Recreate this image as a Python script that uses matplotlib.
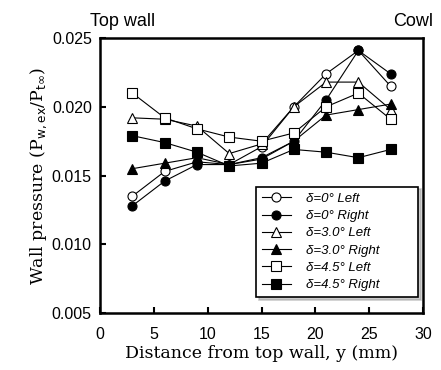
import matplotlib
matplotlib.use("Agg")
import matplotlib.pyplot as plt

y_mm = [3, 6, 9, 12, 15, 18, 21, 24, 27]

left_0 = [0.0135, 0.0153, 0.0160, 0.0158, 0.0171, 0.0200, 0.0224, 0.0241, 0.0215]
right_0 = [0.0128, 0.0146, 0.0158, 0.0158, 0.0163, 0.0175, 0.0205, 0.0241, 0.0224]
left_3 = [0.0192, 0.0191, 0.0186, 0.0166, 0.0173, 0.0200, 0.0218, 0.0218, 0.0198]
right_3 = [0.0155, 0.0159, 0.0163, 0.0158, 0.0162, 0.0175, 0.0194, 0.0198, 0.0202]
left_45 = [0.0210, 0.0192, 0.0184, 0.0178, 0.0175, 0.0181, 0.0200, 0.0210, 0.0191]
right_45 = [0.0179, 0.0174, 0.0167, 0.0157, 0.0159, 0.0169, 0.0167, 0.0163, 0.0169]

series = [
    (left_0, "o", "white", "δ=0° Left"),
    (right_0, "o", "black", "δ=0° Right"),
    (left_3, "^", "white", "δ=3.0° Left"),
    (right_3, "^", "black", "δ=3.0° Right"),
    (left_45, "s", "white", "δ=4.5° Left"),
    (right_45, "s", "black", "δ=4.5° Right"),
]

plt.rcParams['font.family'] = ['Liberation Sans', 'DejaVu Sans']

fig = plt.figure(figsize=(4.41, 3.70), dpi=100)
ax = fig.add_axes([0.227, 0.154, 0.732, 0.743])

for vals, m, fc, lab in series:
    ax.plot(y_mm, vals, color="black", lw=0.8, marker=m, markersize=6.5,
            markerfacecolor=fc, markeredgecolor="black", markeredgewidth=0.8,
            label=lab)

ax.set_xlim(0, 30)
ax.set_ylim(0.005, 0.025)
ax.set_xticks([0, 5, 10, 15, 20, 25, 30])
ax.set_yticks([0.005, 0.010, 0.015, 0.020, 0.025])
ax.set_yticklabels(["0.005", "0.010", "0.015", "0.020", "0.025"])
ax.tick_params(direction="in", length=4, width=1.5, labelsize=11.5, top=False, right=False)
ax.tick_params(axis="x", pad=10)
ax.tick_params(axis="y", pad=6)
for s in ax.spines.values():
    s.set_linewidth(1.8)

ax.set_xlabel("Distance from top wall, y (mm)", family="DejaVu Serif", fontsize=12.5, labelpad=2)
ax.set_ylabel(r"Wall pressure (P$_{\rm w,ex}$/P$_{\rm t\infty}$)", family="DejaVu Serif",
              fontsize=12.5, labelpad=2)

fig.text(0.204, 0.93, "Top wall", fontsize=13)
fig.text(0.892, 0.93, "Cowl", fontsize=13)

leg = ax.legend(loc="lower left", bbox_to_anchor=(0.483, 0.058, 0.502, 0.3), mode="expand",
                borderaxespad=0, shadow={"color": "0.6"},
                fancybox=False, edgecolor="black",
                prop={"style": "italic", "size": 9.5},
                handlelength=2.2, labelspacing=0.38, borderpad=0.45, handletextpad=1.1)
leg.get_frame().set_linewidth(1.2)

fig.savefig("out.png", dpi=100)
